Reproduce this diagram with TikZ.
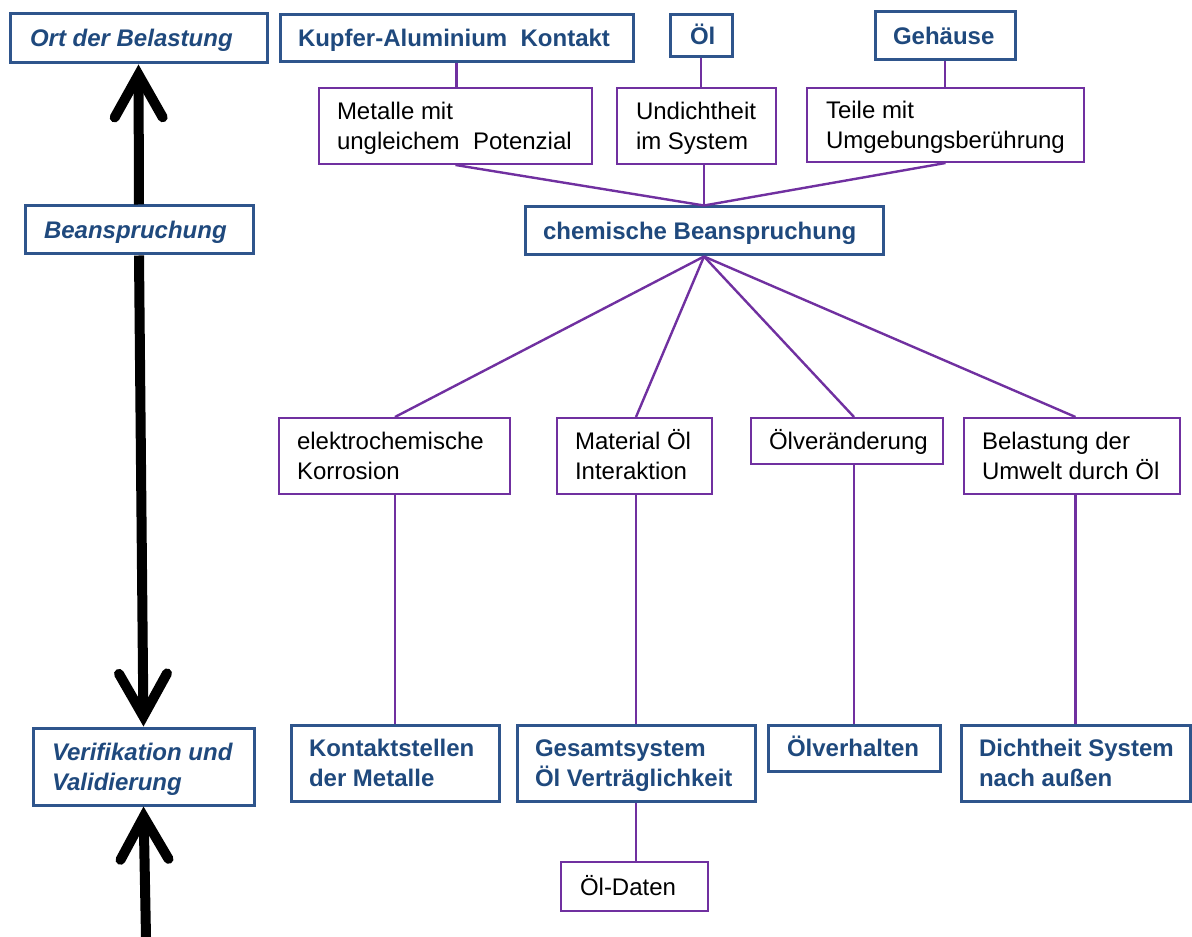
\documentclass[tikz,border=0pt]{standalone}
\usepackage{fontspec}
\setmainfont{Liberation Sans}
\usetikzlibrary{arrows.meta}
\definecolor{bluebrd}{RGB}{47,85,140}
\definecolor{bluetxt}{RGB}{31,73,125}
\definecolor{purp}{RGB}{112,48,160}
% invisible rules fixing the height above the first line and the depth below the last one
\newcommand\topstrut{\rule{0pt}{19.5pt}}
\newcommand\botstrut{\rule[-6.75pt]{0pt}{6.75pt}}
% left-aligned text block of fixed width with a left padding
\newcommand\bxt[3][13.5pt]{\parbox{#2}{\raggedright\leftskip=#1\relax\hyphenpenalty=10000\relax\topstrut #3\botstrut}}
\tikzset{
  base/.style={fill=white, inner sep=0pt, font=\fontsize{18}{22.5}\selectfont},
  bluebox/.style={base, draw=bluebrd, line width=2.25pt, text=bluetxt, font=\fontsize{18}{22.5}\selectfont\bfseries},
  levelbox/.style={bluebox, font=\fontsize{18}{22.5}\selectfont\bfseries\itshape},
  purpbox/.style={base, draw=purp, line width=1.5pt, text=black},
  link/.style={draw=purp, line width=1.8pt},
  bigarrow/.style={line width=7.5pt, -{Straight Barb[length=32pt, width=36pt, line cap=round, line join=miter]}}
}
\begin{document}
\begin{tikzpicture}[x=0.75pt, y=-0.75pt]
\useasboundingbox (0,0) rectangle (1192,937);

% left column: levels
\node[levelbox, minimum height=36.75pt] (ort) at (138.5,38.5) {\bxt[15pt]{192.75pt}{Ort der Belastung}};
\node[levelbox, minimum height=36pt] (beans) at (139,230) {\bxt[14.25pt]{171pt}{Beanspruchung}};
\node[levelbox, minimum height=57.75pt] (verif) at (143.5,766.5) {\bxt[14.25pt]{165.75pt}{Verifikation und\\Validierung}};
\coordinate (bottom) at (146,937);

\draw[bigarrow] (beans.north) -- (ort.south);
\draw[bigarrow] (beans.south) -- (verif.north);
\draw[bigarrow] (bottom) -- (verif.south);

% top row: locations
\node[bluebox, minimum height=35.25pt] (kupfer) at (456.5,38.5) {\bxt{264.75pt}{Kupfer-Aluminium\ \ Kontakt}};
\node[bluebox, minimum height=31.5pt] (oel) at (701,36) {\bxt[15pt]{46.5pt}{Öl}};
\node[bluebox, minimum height=36pt] (geh) at (945,36) {\bxt{105pt}{Gehäuse}};

% causes
\node[purpbox, minimum height=57pt] (metalle) at (455.5,126) {\bxt{204.75pt}{Metalle mit\\ungleichem\ \ Potenzial}};
\node[purpbox, minimum height=57pt] (undicht) at (696.5,126) {\bxt[14.25pt]{119.25pt}{Undichtheit\\im System}};
\node[purpbox, minimum height=55.5pt] (teile) at (945.5,125) {\bxt[14.25pt]{207.75pt}{Teile mit\\Umgebungsberührung}};

% central load
\node[bluebox, minimum height=36pt] (chem) at (704,231) {\bxt{268.5pt}{chemische Beanspruchung}};

% effects
\node[purpbox, minimum height=57pt] (elektro) at (394.5,456) {\bxt{173.25pt}{elektrochemische\\Korrosion}};
\node[purpbox, minimum height=57pt] (material) at (634.5,456) {\bxt{116.25pt}{Material Öl\\Interaktion}};
\node[purpbox, minimum height=34.5pt] (oelver) at (847,441) {\bxt{144pt}{Ölveränderung}};
\node[purpbox, minimum height=57pt] (belast) at (1072,456) {\bxt{162pt}{Belastung der\\Umwelt durch Öl}};

% verification
\node[bluebox, minimum height=57pt] (kontakt) at (395,763) {\bxt{156pt}{Kontaktstellen\\der Metalle}};
\node[bluebox, minimum height=57pt] (gesamt) at (636,763) {\bxt{178.5pt}{Gesamtsystem\\Öl Verträglichkeit}};
\node[bluebox, minimum height=34.5pt] (oelverh) at (854,748) {\bxt[14.25pt]{129pt}{Ölverhalten}};
\node[bluebox, minimum height=57pt] (dicht) at (1075.5,763) {\bxt{171.75pt}{Dichtheit System\\nach außen}};
\node[purpbox, minimum height=36.75pt] (daten) at (634.5,886.5) {\bxt[14.25pt]{110.25pt}{Öl-Daten}};

% connectors
\path[link] (kupfer.south) -- (kupfer.south |- metalle.north);
\path[link] (oel.south) -- (oel.south |- undicht.north);
\path[link] (geh.south) -- (geh.south |- teile.north);
\path[link] (metalle.south) -- (chem.north);
\path[link] (chem.north |- undicht.south) -- (chem.north);
\path[link] (teile.south) -- (chem.north);
\path[link] (chem.south) -- (kontakt.north |- elektro.north);
\path[link] (chem.south) -- (gesamt.north |- material.north);
\path[link] (chem.south) -- (oelverh.north |- oelver.north);
\path[link] (chem.south) -- (dicht.north |- belast.north);
\path[link] (kontakt.north |- elektro.south) -- (kontakt.north);
\path[link] (gesamt.north |- material.south) -- (gesamt.north);
\path[link] (oelverh.north |- oelver.south) -- (oelverh.north);
\path[link] (dicht.north |- belast.south) -- (dicht.north);
\path[link] (gesamt.south) -- (gesamt.south |- daten.north);
\end{tikzpicture}
\end{document}
